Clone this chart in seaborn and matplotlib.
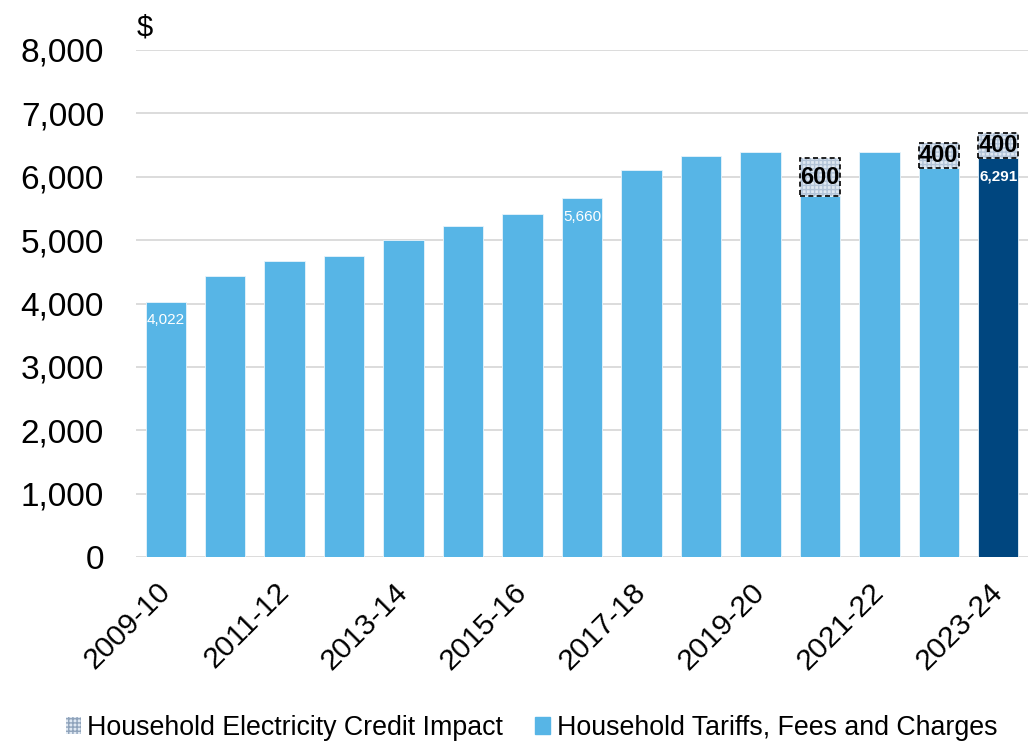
import matplotlib
matplotlib.use("Agg")
import matplotlib.pyplot as plt
import seaborn as sns
import pandas as pd
from matplotlib.patches import Patch

years = ["2009-10", "2010-11", "2011-12", "2012-13", "2013-14", "2014-15", "2015-16",
         "2016-17", "2017-18", "2018-19", "2019-20", "2020-21", "2021-22", "2022-23", "2023-24"]
tariffs = [4022, 4427, 4674, 4748, 5005, 5226, 5410, 5660, 6099, 6330, 6393, 5690, 6383, 6140, 6291]
credit_years = ["2020-21", "2022-23", "2023-24"]
credit = [600, 400, 400]
labelled_years = ["2009-10", "2016-17", "2023-24"]

LIGHT = "#57B5E6"
NAVY = "#00467F"

sns.set_theme(style="white")
plt.rcParams["font.family"] = ["Liberation Sans", "DejaVu Sans"]
plt.rcParams["text.color"] = "black"
plt.rcParams["xtick.color"] = "black"
plt.rcParams["ytick.color"] = "black"

fig = plt.figure(figsize=(10.30, 7.41), dpi=100)
ax = fig.add_axes([136 / 1030, 1 - 557 / 741, (1028 - 136) / 1030, (557 - 50) / 741])

df = pd.DataFrame({"year": years, "value": tariffs})
colors = [NAVY if y == "2023-24" else LIGHT for y in years]
sns.barplot(data=df, x="year", y="value", hue="year", palette=colors, legend=False,
            width=0.68, ax=ax, edgecolor="#e8f4fb", linewidth=0.6, saturation=1)

pos = {y: i for i, y in enumerate(years)}
cx = [pos[y] for y in credit_years]
cb = [tariffs[pos[y]] for y in credit_years]
ax.bar(cx, credit, bottom=cb, width=0.68, color="#dfe8f2", edgecolor="#b3c4d8",
       linewidth=0, hatch="++++", zorder=3)
ax.bar(cx, credit, bottom=cb, width=0.68, fill=False, edgecolor="black",
       linewidth=1.2, linestyle=(0, (3, 2)), zorder=4)
for x, b, c in zip(cx, cb, credit):
    ax.text(x, b + c / 2, f"{c:,}", ha="center", va="center", fontsize=17,
            fontweight="bold", color="black", zorder=5)

for y in labelled_years:
    i = pos[y]
    v = tariffs[i]
    ax.text(i, v - 290, f"{v:,}", ha="center", va="center", fontsize=11,
            color="white", fontweight="bold" if y == "2023-24" else "normal", zorder=5)

ax.set_xlim(-0.5, len(years) - 0.5)
ax.set_ylim(0, 8000)
ax.set_yticks(range(0, 8001, 1000))
ax.set_yticklabels([f"{t:,}" for t in range(0, 8001, 1000)], fontsize=24)
ax.yaxis.grid(True, color="#d9d9d9", linewidth=1.3)
ax.set_axisbelow(True)
for s in ax.spines.values():
    s.set_visible(False)
ax.tick_params(axis="both", length=0)
ax.tick_params(axis="y", pad=23)
ax.tick_params(axis="x", pad=22)

xt = list(range(0, len(years), 2))
ax.set_xticks(xt)
ax.set_xticklabels([years[i] for i in xt], rotation=45, ha="right", va="center",
                   rotation_mode="anchor", fontsize=21.5)
ax.set_xlabel("")
ax.set_ylabel("")

fig.text(137 / 1030, 1 - 27 / 741, "$", fontsize=21, ha="left", va="center")

handles = [Patch(facecolor="#dfe8f2", edgecolor="#8fa3bb", hatch="++++", linewidth=0),
           Patch(facecolor=LIGHT, edgecolor=LIGHT)]
fig.legend(handles, ["Household Electricity Credit Impact", "Household Tariffs, Fees and Charges"],
           loc="center", bbox_to_anchor=(0.516, 1 - 728 / 741), ncol=2, frameon=False,
           fontsize=19.3, handlelength=0.55, handleheight=0.55, handletextpad=0.25,
           columnspacing=1.2, borderpad=0)

fig.savefig("out.png", dpi=100)
